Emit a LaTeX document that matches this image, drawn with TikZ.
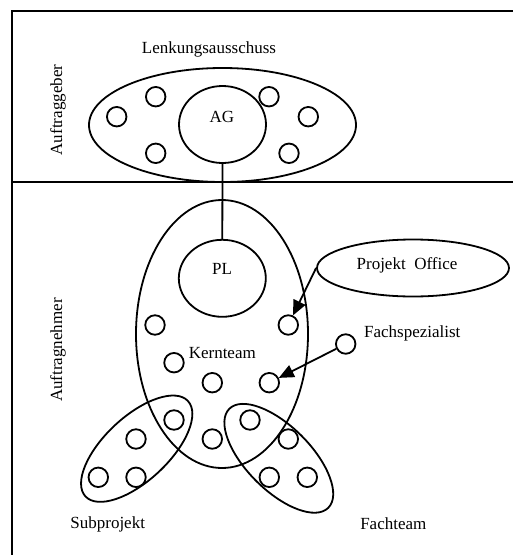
\documentclass[tikz,border=0pt]{standalone}
\usepackage{fontspec}
\setmainfont{Liberation Serif}
\usetikzlibrary{shapes.geometric,arrows.meta}
\begin{document}
\begin{tikzpicture}[x=1pt,y=-1pt,
  every node/.style={font=\fontsize{17}{20}\selectfont},
  ln/.style={line width=1.8pt},
  oval/.style={ln,draw,ellipse,inner sep=0pt},
  dot/.style={ln,draw,circle,inner sep=0pt,minimum size=19.5pt},
  lbl/.style={inner sep=0pt},
  arr/.style={ln,-{Triangle[length=15pt,width=13pt]}}]
\useasboundingbox (0,0) rectangle (513,555);
% frame and divider between the two parties
\coordinate (fbl) at (12,555);
\coordinate (ftl) at (12,11);
\coordinate (ftr) at (513,11);
\coordinate (dl) at (12,182);
\coordinate (dr) at (513,182);
\draw[ln] (fbl) -- (ftl) -- (ftr);
\draw[ln] (dl) -- (dr);
% side labels
\node[lbl,rotate=90] (lagb) at (58,110) {Auftraggeber};
\node[lbl,rotate=90] (lagn) at (58,350) {Auftragnehmer};
% steering committee
\node[oval,minimum width=267pt,minimum height=114pt] (lk) at (222.5,125) {};
\node[lbl] (lklbl) at (209,49) {Lenkungsausschuss};
\node[oval,minimum width=87pt,minimum height=77pt] (ag) at (222.5,124.5) {};
\node[lbl] (aglbl) at (222,117) {AG};
\node[dot] (l1) at (155.7,96.7) {};
\node[dot] (l2) at (116.7,116.7) {};
\node[dot] (l3) at (155.7,153.3) {};
\node[dot] (l4) at (269,96.7) {};
\node[dot] (l5) at (308.3,116.7) {};
\node[dot] (l6) at (289,153.3) {};
% core team
\node[oval,minimum width=172pt,minimum height=268pt] (kt) at (222,334) {};
\node[oval,minimum width=87pt,minimum height=77pt] (pl) at (222.3,278.3) {};
\node[lbl] (pllbl) at (222,269) {PL};
\node[lbl] (ktlbl) at (222.3,352.7) {Kernteam};
\node[dot] (k1) at (155,325) {};
\node[dot] (k2) at (288.3,325) {};
\node[dot] (k3) at (174,362.7) {};
\node[dot] (k4) at (212.3,382.7) {};
\node[dot] (k5) at (269.3,382.7) {};
\node[dot] (k6) at (174,420) {};
\node[dot] (k7) at (212.3,439) {};
\node[dot] (k8) at (250,420) {};
\node[dot] (k9) at (288.3,439) {};
% sub-project and specialist team
\node[oval,rotate=43,minimum width=140pt,minimum height=64pt] (sp) at (136.7,448.7) {};
\node[oval,rotate=-45,minimum width=140pt,minimum height=64pt] (ft) at (278.8,458.3) {};
\node[dot] (s1) at (136,439) {};
\node[dot] (s2) at (98.3,477.3) {};
\node[dot] (s3) at (136,477.3) {};
\node[dot] (f1) at (269.3,477.3) {};
\node[dot] (f2) at (307.3,477.3) {};
\node[lbl] (splbl) at (107.7,524) {Subprojekt};
\node[lbl] (ftlbl) at (393.3,524) {Fachteam};
% project office and specialist
\node[oval,minimum width=192pt,minimum height=57pt] (po) at (413,268) {};
\node[lbl] (polbl) at (407,265) {Projekt\ \ Office};
\node[dot] (fs) at (345.7,344) {};
\node[lbl] (fslbl) at (412.3,333.3) {Fachspezialist};
% connectors
\draw[ln] (ag.south) -- (pl.north);
\draw[arr] (po.west) -- (k2);
\draw[arr] (fs) -- (k5);
\end{tikzpicture}
\end{document}
